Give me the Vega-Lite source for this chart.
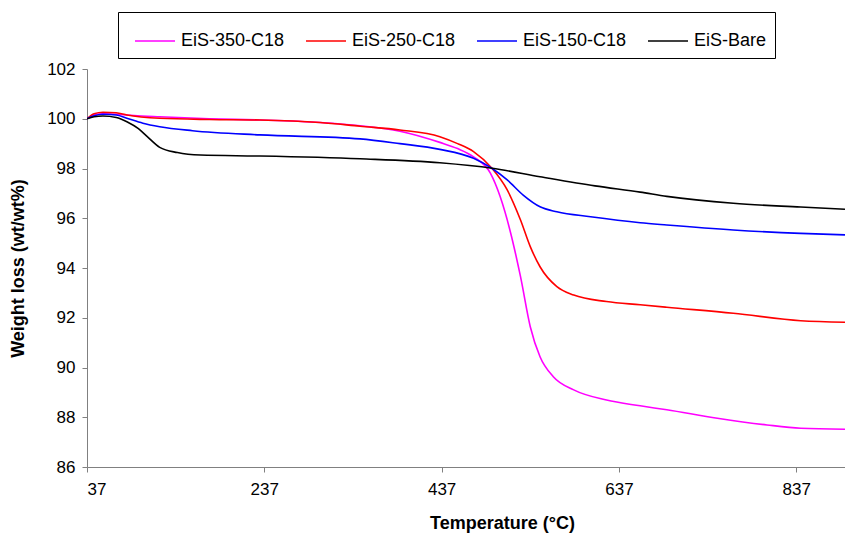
{
  "$schema": "https://vega.github.io/schema/vega-lite/v6.json",
  "width": 758,
  "height": 398,
  "autosize": "none",
  "padding": {"left": 87, "top": 69, "right": 0, "bottom": 70},
  "background": "white",
  "config": {"view": {"stroke": null}, "font": "Liberation Sans"},
  "data": {"values": [
    {"s":"EiS-350-C18","T":37,"w":100.0},{"s":"EiS-350-C18","T":45,"w":100.15},{"s":"EiS-350-C18","T":55,"w":100.2},{"s":"EiS-350-C18","T":70,"w":100.18},{"s":"EiS-350-C18","T":90,"w":100.13},{"s":"EiS-350-C18","T":119,"w":100.08},{"s":"EiS-350-C18","T":175,"w":100.0},{"s":"EiS-350-C18","T":232,"w":99.95},{"s":"EiS-350-C18","T":300,"w":99.85},{"s":"EiS-350-C18","T":345,"w":99.72},{"s":"EiS-350-C18","T":390,"w":99.5},{"s":"EiS-350-C18","T":435,"w":99.05},{"s":"EiS-350-C18","T":455,"w":98.8},{"s":"EiS-350-C18","T":473,"w":98.47},{"s":"EiS-350-C18","T":492,"w":97.81},{"s":"EiS-350-C18","T":503,"w":96.87},{"s":"EiS-350-C18","T":514,"w":95.53},{"s":"EiS-350-C18","T":526,"w":93.65},{"s":"EiS-350-C18","T":537,"w":91.64},{"s":"EiS-350-C18","T":548,"w":90.43},{"s":"EiS-350-C18","T":563,"w":89.63},{"s":"EiS-350-C18","T":586,"w":89.1},{"s":"EiS-350-C18","T":623,"w":88.69},{"s":"EiS-350-C18","T":661,"w":88.46},{"s":"EiS-350-C18","T":691,"w":88.3},{"s":"EiS-350-C18","T":748,"w":87.96},{"s":"EiS-350-C18","T":804,"w":87.69},{"s":"EiS-350-C18","T":842,"w":87.56},{"s":"EiS-350-C18","T":892,"w":87.52},
    {"s":"EiS-250-C18","T":37,"w":100.0},{"s":"EiS-250-C18","T":45,"w":100.2},{"s":"EiS-250-C18","T":55,"w":100.26},{"s":"EiS-250-C18","T":70,"w":100.24},{"s":"EiS-250-C18","T":82,"w":100.15},{"s":"EiS-250-C18","T":119,"w":100.02},{"s":"EiS-250-C18","T":175,"w":99.97},{"s":"EiS-250-C18","T":232,"w":99.95},{"s":"EiS-250-C18","T":300,"w":99.85},{"s":"EiS-250-C18","T":345,"w":99.7},{"s":"EiS-250-C18","T":390,"w":99.55},{"s":"EiS-250-C18","T":435,"w":99.28},{"s":"EiS-250-C18","T":455,"w":99.0},{"s":"EiS-250-C18","T":473,"w":98.68},{"s":"EiS-250-C18","T":494,"w":98.0},{"s":"EiS-250-C18","T":511,"w":97.14},{"s":"EiS-250-C18","T":526,"w":95.93},{"s":"EiS-250-C18","T":537,"w":94.86},{"s":"EiS-250-C18","T":548,"w":94.05},{"s":"EiS-250-C18","T":567,"w":93.25},{"s":"EiS-250-C18","T":586,"w":92.91},{"s":"EiS-250-C18","T":623,"w":92.65},{"s":"EiS-250-C18","T":661,"w":92.52},{"s":"EiS-250-C18","T":691,"w":92.42},{"s":"EiS-250-C18","T":766,"w":92.18},{"s":"EiS-250-C18","T":842,"w":91.88},{"s":"EiS-250-C18","T":892,"w":91.82},
    {"s":"EiS-150-C18","T":37,"w":100.0},{"s":"EiS-150-C18","T":45,"w":100.12},{"s":"EiS-150-C18","T":55,"w":100.18},{"s":"EiS-150-C18","T":70,"w":100.15},{"s":"EiS-150-C18","T":82,"w":100.02},{"s":"EiS-150-C18","T":100,"w":99.82},{"s":"EiS-150-C18","T":119,"w":99.68},{"s":"EiS-150-C18","T":156,"w":99.52},{"s":"EiS-150-C18","T":232,"w":99.35},{"s":"EiS-150-C18","T":345,"w":99.19},{"s":"EiS-150-C18","T":390,"w":99.0},{"s":"EiS-150-C18","T":435,"w":98.77},{"s":"EiS-150-C18","T":473,"w":98.41},{"s":"EiS-150-C18","T":494,"w":98.0},{"s":"EiS-150-C18","T":511,"w":97.54},{"s":"EiS-150-C18","T":529,"w":96.93},{"s":"EiS-150-C18","T":548,"w":96.46},{"s":"EiS-150-C18","T":567,"w":96.26},{"s":"EiS-150-C18","T":605,"w":96.06},{"s":"EiS-150-C18","T":661,"w":95.82},{"s":"EiS-150-C18","T":691,"w":95.73},{"s":"EiS-150-C18","T":766,"w":95.53},{"s":"EiS-150-C18","T":842,"w":95.39},{"s":"EiS-150-C18","T":892,"w":95.33},
    {"s":"EiS-Bare","T":37,"w":100.0},{"s":"EiS-Bare","T":45,"w":100.08},{"s":"EiS-Bare","T":55,"w":100.11},{"s":"EiS-Bare","T":70,"w":100.05},{"s":"EiS-Bare","T":82,"w":99.88},{"s":"EiS-Bare","T":95,"w":99.6},{"s":"EiS-Bare","T":105,"w":99.28},{"s":"EiS-Bare","T":119,"w":98.85},{"s":"EiS-Bare","T":139,"w":98.64},{"s":"EiS-Bare","T":165,"w":98.54},{"s":"EiS-Bare","T":232,"w":98.5},{"s":"EiS-Bare","T":345,"w":98.39},{"s":"EiS-Bare","T":435,"w":98.23},{"s":"EiS-Bare","T":494,"w":98.01},{"s":"EiS-Bare","T":548,"w":97.67},{"s":"EiS-Bare","T":610,"w":97.3},{"s":"EiS-Bare","T":661,"w":97.05},{"s":"EiS-Bare","T":691,"w":96.88},{"s":"EiS-Bare","T":766,"w":96.6},{"s":"EiS-Bare","T":842,"w":96.45},{"s":"EiS-Bare","T":892,"w":96.36}
  ]},
  "mark": {"type": "line", "strokeWidth": 1.6, "interpolate": "monotone", "clip": true},
  "encoding": {
    "x": {"field": "T", "type": "quantitative",
      "scale": {"domain": [37, 892], "nice": false, "zero": false},
      "axis": {"values": [37, 237, 437, 637, 837], "grid": false, "domainColor": "#808080", "tickColor": "#808080", "tickSize": 5,
        "labelFontSize": 17, "labelColor": "black", "labelPadding": 9,
        "title": "Temperature (°C)", "titleFontSize": 18, "titleFontWeight": "bold", "titleColor": "black", "titleX": 415, "titleY": 47}},
    "y": {"field": "w", "type": "quantitative",
      "scale": {"domain": [86, 102], "nice": false, "zero": false},
      "axis": {"values": [86, 88, 90, 92, 94, 96, 98, 100, 102], "grid": false, "domainColor": "#808080", "tickColor": "#808080", "tickSize": 5,
        "labelFontSize": 17, "labelColor": "black", "labelPadding": 7,
        "title": "Weight loss (wt/wt%)", "titleFontSize": 18, "titleFontWeight": "bold", "titleColor": "black", "titleX": -60, "titleY": 199}},
    "color": {"field": "s", "type": "nominal",
      "scale": {"domain": ["EiS-350-C18", "EiS-250-C18", "EiS-150-C18", "EiS-Bare"], "range": ["#FF00FF", "#FF0000", "#0000FF", "#000000"]},
      "legend": {"orient": "none", "legendX": 31, "legendY": -57, "direction": "horizontal", "title": null,
        "strokeColor": "black", "fillColor": "white", "padding": 8, "symbolType": "stroke", "symbolSize": 1600, "symbolStrokeWidth": 1.6, "symbolOffset": 8,
        "labelFontSize": 18, "labelColor": "black", "labelOffset": 5, "columnPadding": 12}}
  }
}
